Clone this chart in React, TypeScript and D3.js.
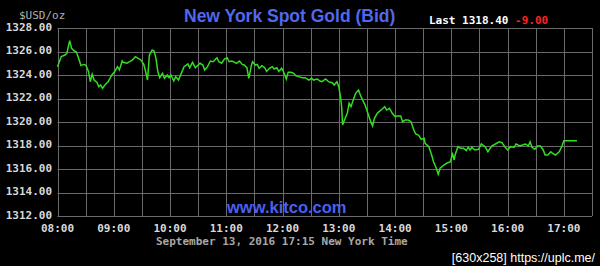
import React from "react";
import * as d3 from "d3";

const times: string[] = [
  "08:00","08:04","08:08","08:10","08:13","08:15","08:18","08:20","08:22","08:25","08:28","08:30","08:31","08:33","08:35","08:37","08:39","08:42","08:44","08:46","08:48","08:51","08:54","08:58",
  "09:01","09:04","09:06","09:09","09:10","09:14","09:17","09:20","09:23","09:26","09:29","09:32","09:34","09:36","09:38","09:41","09:43","09:45","09:47","09:49","09:52","09:54","09:57","09:59",
  "10:01","10:04","10:06","10:09","10:12","10:15","10:19","10:21","10:24","10:27","10:30","10:32","10:35","10:37","10:40","10:43","10:46","10:50","10:52","10:55","10:58",
  "11:01","11:03","11:06","11:09","11:11","11:14","11:17","11:19","11:22","11:24","11:27","11:28","11:31","11:33","11:35","11:38","11:41","11:43","11:46","11:49","11:51","11:54","11:56","11:59",
  "12:01","12:04","12:06","12:09","12:12","12:14","12:17","12:21","12:24","12:28","12:31","12:33","12:37","12:40","12:42","12:46","12:49","12:53","12:55","12:58",
  "13:00","13:02","13:03","13:04","13:06","13:09","13:11","13:13","13:16","13:18","13:21","13:23","13:25","13:28","13:31","13:34","13:36","13:38","13:41","13:43","13:46","13:49","13:51","13:54","13:57",
  "14:00","14:02","14:06","14:08","14:11","14:14","14:17","14:20","14:22","14:25","14:28","14:31","14:32","14:36","14:39","14:41","14:44","14:46","14:48","14:52","14:55","14:59",
  "15:00","15:01","15:03","15:04","15:07","15:10","15:13","15:16","15:18","15:20","15:22","15:25","15:29","15:32","15:36","15:39","15:43","15:47","15:51","15:54","15:57",
  "16:00","16:03","16:07","16:09","16:13","16:16","16:19","16:22","16:24","16:26","16:29","16:32","16:35","16:38","16:40","16:43","16:46","16:48","16:51","16:55","16:58",
  "17:00","17:04","17:14"
];

const prices: number[] = [
  1324.71,1325.56,1325.70,1325.85,1326.92,1326.27,1326.04,1325.98,1325.56,1324.80,1324.90,1324.85,1324.70,1324.30,1323.43,1324.06,1323.57,1323.38,1323.00,1323.15,1322.87,1323.20,1323.43,1324.00,
  1324.30,1324.71,1324.43,1325.19,1325.08,1325.00,1325.13,1325.28,1325.56,1325.42,1325.28,1324.90,1324.30,1323.57,1325.70,1326.13,1326.04,1325.42,1324.30,1323.77,1324.14,1323.72,1324.00,1323.77,
  1324.00,1323.49,1323.86,1323.57,1324.14,1324.71,1324.95,1324.62,1325.08,1324.62,1324.85,1325.00,1324.85,1324.43,1324.71,1325.19,1325.13,1325.47,1325.13,1325.00,1325.36,
  1325.47,1325.13,1325.19,1325.08,1325.00,1325.19,1324.90,1324.85,1324.62,1323.72,1324.90,1325.13,1324.85,1324.90,1324.57,1324.79,1324.62,1324.30,1324.57,1324.71,1324.51,1324.62,1324.30,1324.57,
  1324.30,1323.66,1324.23,1324.23,1324.14,1323.94,1323.86,1323.77,1323.77,1323.57,1323.72,1323.57,1323.66,1323.49,1323.43,1323.66,1323.43,1323.34,1323.15,1323.43,
  1323.00,1322.02,1321.30,1319.74,1320.17,1320.74,1321.59,1321.30,1322.02,1322.44,1322.72,1322.30,1321.93,1321.45,1320.74,1320.03,1319.66,1320.31,1320.74,1320.88,1321.08,1321.30,1321.02,1321.17,1320.74,
  1320.45,1320.51,1320.51,1320.03,1320.17,1320.17,1320.03,1319.32,1318.98,1318.89,1318.52,1318.61,1318.19,1317.90,1317.19,1316.62,1316.06,1315.55,1316.06,1316.34,1316.49,1316.62,
  1316.91,1317.39,1316.77,1317.19,1317.90,1317.76,1317.76,1317.56,1317.85,1317.62,1317.85,1317.62,1317.68,1318.13,1317.90,1317.47,1317.96,1318.13,1318.32,1318.24,1317.90,
  1317.62,1317.90,1317.85,1318.13,1317.96,1318.04,1318.13,1317.96,1318.32,1317.85,1317.68,1317.96,1317.96,1317.62,1317.19,1317.19,1317.47,1317.33,1317.19,1317.47,1317.96,
  1318.40,1318.40,1318.40
];

const yTicks: number[] = [1312, 1314, 1316, 1318, 1320, 1322, 1324, 1326, 1328];
const xTickLabels: string[] = ["08:00","09:00","10:00","11:00","12:00","13:00","14:00","15:00","16:00","17:00"];
const gridTimes: string[] = ["08:30","09:30","10:30","11:30","12:30","13:30","14:30","15:30","16:30"];

const toMin = (s: string) => {
  const [h, m] = s.split(":").map(Number);
  return (h - 8) * 60 + m;
};

export default function App() {
  const W = 600, H = 266;
  const left = 57.5, right = 592, top = 28, bottom = 216;
  const x = d3.scaleLinear().domain([0, 570]).range([left, right]);
  const y = d3.scaleLinear().domain([1312, 1328]).range([bottom, top]);
  const data = times.map((t, i) => ({ m: toMin(t), v: prices[i] }));
  const line = d3.line<{ m: number; v: number }>().x(d => x(d.m)).y(d => y(d.v));
  const mono = "'DejaVu Sans Mono', monospace";
  const sans = "'Liberation Sans', Arial, sans-serif";
  const grid = "#6a6a6a";
  return (
    <svg width={W} height={H} style={{ position: "absolute", left: 0, top: 0, background: "#000" }}>
      <rect x={0} y={0} width={W} height={H} fill="#000" />
      {yTicks.map(v => (
        <line key={"h" + v} x1={left} x2={right} y1={Math.round(y(v)) + 0.5} y2={Math.round(y(v)) + 0.5} stroke={grid} strokeWidth={1} />
      ))}
      {[...xTickLabels, ...gridTimes, "17:30"].map(t => (
        <line key={"v" + t} x1={Math.round(x(toMin(t))) + 0.5} x2={Math.round(x(toMin(t))) + 0.5} y1={top} y2={bottom} stroke={grid} strokeWidth={1} />
      ))}
      {yTicks.map(v => (
        <text key={"yl" + v} x={52} y={y(v)} dy="0.25em" textAnchor="end" fontFamily={mono} fontWeight="bold" fontSize={11} fill="#d8d8d8">
          {v.toFixed(2)}
        </text>
      ))}
      {xTickLabels.map(t => (
        <text key={"xl" + t} x={x(toMin(t))} y={231.6} textAnchor="middle" fontFamily={mono} fontWeight="bold" fontSize={11} fill="#d8d8d8">
          {t}
        </text>
      ))}
      <text x={19} y={19} fontFamily={mono} fontSize={11} fill="#b0b0b0">$USD/oz</text>
      <text x={184} y={22} fontFamily={sans} fontWeight="bold" fontSize={17.5} fill="#5068ee">New York Spot Gold (Bid)</text>
      <text x={429} y={24} fontFamily={mono} fontWeight="bold" fontSize={11} fill="#ffffff">
        Last 1318.40 <tspan fill="#ff2020">-9.00</tspan>
      </text>
      <text x={227} y={213} fontFamily={sans} fontWeight="bold" fontSize={16.5} fill="#4a60ee">www.kitco.com</text>
      <text x={156} y={244.5} fontFamily={mono} fontWeight="bold" fontSize={11} fill="#a8a8a8">September 13, 2016 17:15 New York Time</text>
      <path d={line(data) || ""} fill="none" stroke="#33dd22" strokeWidth={1.5} />
      <text x={595} y={262} textAnchor="end" fontFamily={sans} fontSize={12.5} fill="#ffffff">[630x258] https://uplc.me/</text>
    </svg>
  );
}
